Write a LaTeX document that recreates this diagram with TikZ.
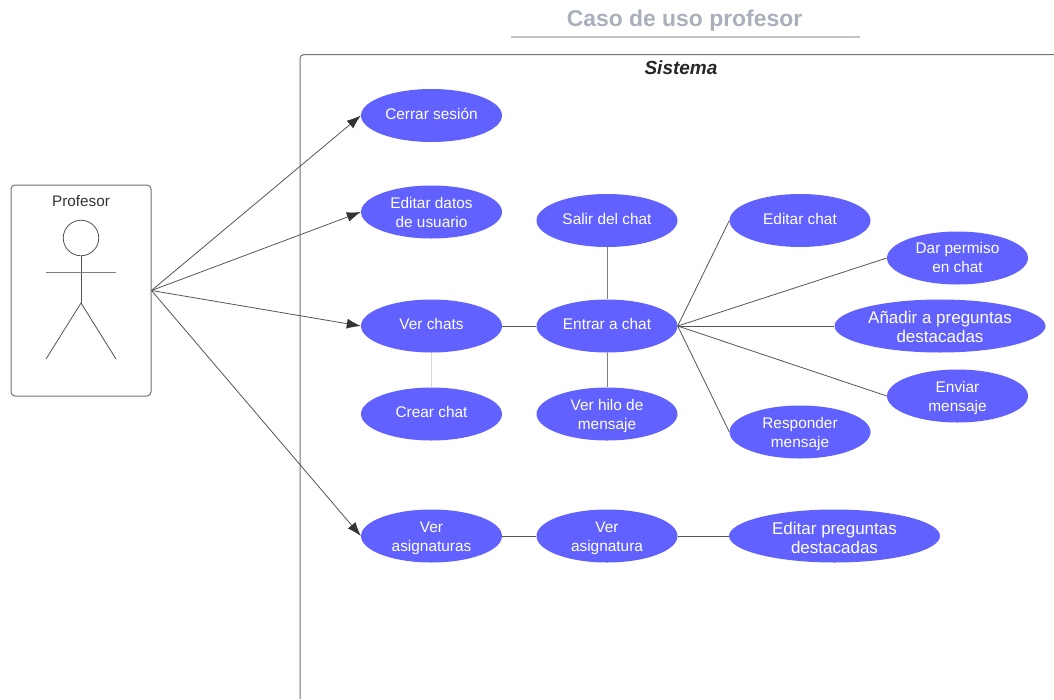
\documentclass[tikz,border=0pt]{standalone}
\usepackage{fontspec}
\setmainfont{Liberation Sans}
\usetikzlibrary{shapes.geometric,arrows.meta}
\definecolor{uc}{HTML}{6161FF}
\definecolor{ln}{HTML}{555555}
\definecolor{ttl}{HTML}{A9B0BC}
\definecolor{ul}{HTML}{BEC3CC}
\tikzset{
  x=1pt,y=-1pt,
  uc/.style={ellipse,fill=uc,draw=none,inner sep=0pt,minimum width=141pt,minimum height=53pt},
  ucw/.style={uc,minimum width=211pt},
  ucl/.style={text=white,inner sep=0pt,align=center,font=\fontsize{15.4}{19}\selectfont},
  uclw/.style={ucl,font=\fontsize{17}{18.5}\selectfont},
  tx/.style 2 args={label={[ucl,yshift=#1]center:{#2}}},
  txw/.style 2 args={label={[uclw,yshift=#1]center:{#2}}},
  lnk/.style={draw=ln,line width=0.8pt},
  arr/.style={lnk,-{Latex[length=14pt,width=10pt,color=black!80]}},
  fig/.style={draw=ln,line width=0.8pt},
  frm/.style={draw=black!55,line width=1pt}
}
\begin{document}
\begin{tikzpicture}
\useasboundingbox (0,0) rectangle (1054,699);
\fill[white] (0,0) rectangle (1054,699);
\node[text=ttl,font=\bfseries\fontsize{22.9}{24}\selectfont] (title) at (684.5,20.5) {Caso de uso profesor};
\coordinate (ula) at (511,36.5);
\coordinate (ulb) at (859.5,36.5);
\draw[draw=ul,line width=2pt] (ula) -- (ulb);
\coordinate (sb) at (300,699);
\coordinate (se) at (1054,54.5);
\draw[frm,rounded corners=4pt] (sb) |- (se);
\node[font=\bfseries\itshape\fontsize{19}{21}\selectfont,text=black!85] (sistema) at (681,68) {Sistema};

\node[frm,rounded corners=4pt,minimum width=140pt,minimum height=211pt,inner sep=0pt] (actor) at (81,290.5) {};
\node[font=\fontsize{15.3}{18}\selectfont,text=black!80] (plabel) at (81,201) {Profesor};
\node[circle,fig,minimum size=35.5pt,inner sep=0pt] (head) at (81,238) {};
\coordinate (hip) at (81,303);
\coordinate (arml) at (46,272.5);
\coordinate (armr) at (116,272.5);
\coordinate (legl) at (46,359);
\coordinate (legr) at (116,359);
\draw[fig] (head.south) -- (hip);
\draw[fig,draw=black!50] (arml) -- (armr);
\draw[fig] (legl) -- (hip) -- (legr);

\node[uc,tx={2pt}{Cerrar sesión}] (cerrar) at (431.5,115.5) {};
\node[uc,tx={-0.5pt}{Editar datos\\de usuario}] (datos) at (431.5,212) {};
\node[uc,tx={2.5pt}{Ver chats}] (verchats) at (431.5,326) {};
\node[uc,tx={2.5pt}{Crear chat}] (crear) at (431.5,414) {};
\node[uc,tx={-2pt}{Ver\\asignaturas}] (verasig) at (431.5,536) {};
\node[uc,tx={2pt}{Salir del chat}] (salir) at (607,220.5) {};
\node[uc,tx={2.5pt}{Entrar a chat}] (entrar) at (607,326) {};
\node[uc,tx={-2pt}{Ver hilo de\\mensaje}] (hilo) at (607,414) {};
\node[uc,tx={-2pt}{Ver\\asignatura}] (asig) at (607,536) {};
\node[uc,tx={2pt}{Editar chat}] (edchat) at (800,220.5) {};
\node[uc,tx={1pt}{Dar permiso\\en chat}] (permiso) at (957.5,258) {};
\node[ucw,txw={-1pt}{Añadir a preguntas\\destacadas}] (anadir) at (940,326) {};
\node[uc,tx={-2pt}{Enviar\\mensaje}] (enviar) at (957.5,396) {};
\node[uc,tx={-2pt}{Responder\\mensaje}] (responder) at (800,432) {};
\node[ucw,txw={-2pt}{Editar preguntas\\destacadas}] (edpreg) at (834.5,536) {};

\draw[arr] (actor.east) -- (cerrar.west);
\draw[arr] (actor.east) -- (datos.west);
\draw[arr] (actor.east) -- (verchats.west);
\draw[arr] (actor.east) -- (verasig.west);
\draw[lnk] (verchats) -- (entrar);
\draw[lnk,draw=black!15] (verchats) -- (crear);
\draw[lnk,draw=black!50] (salir) -- (entrar);
\draw[lnk,draw=black!50] (entrar) -- (hilo);
\draw[lnk] (entrar.east) -- (edchat.west);
\draw[lnk] (entrar.east) -- (permiso.west);
\draw[lnk] (entrar.east) -- (anadir.west);
\draw[lnk] (entrar.east) -- (enviar.west);
\draw[lnk] (entrar.east) -- (responder.west);
\draw[lnk] (verasig) -- (asig);
\draw[lnk] (asig) -- (edpreg);
\end{tikzpicture}
\end{document}
